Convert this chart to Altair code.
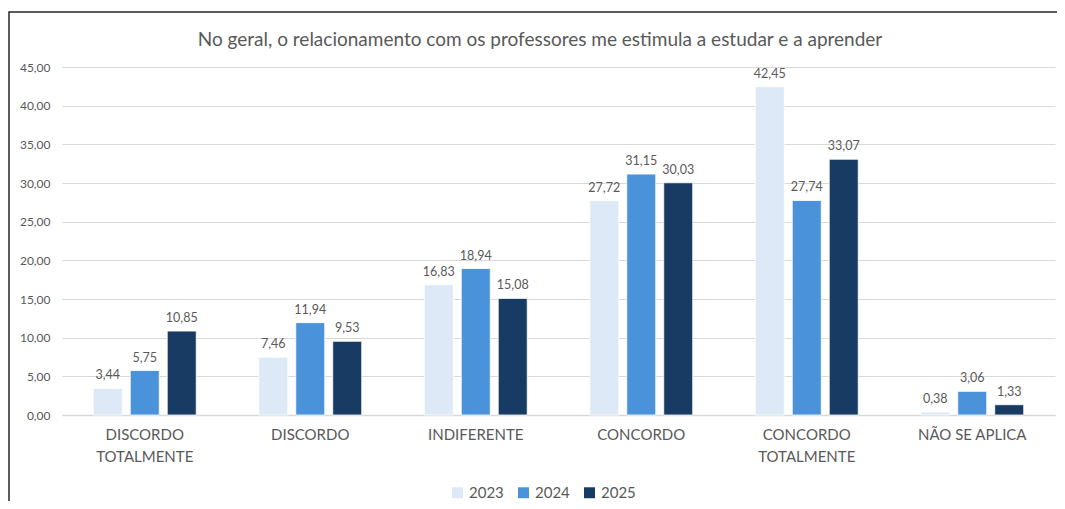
import altair as alt
import pandas as pd

categories = ["DISCORDO TOTALMENTE", "DISCORDO", "INDIFERENTE", "CONCORDO", "CONCORDO TOTALMENTE", "NÃO SE APLICA"]
years = ["2023", "2024", "2025"]
v2023 = [3.44, 7.46, 16.83, 27.72, 42.45, 0.38]
v2024 = [5.75, 11.94, 18.94, 31.15, 27.74, 3.06]
v2025 = [10.85, 9.53, 15.08, 30.03, 33.07, 1.33]
y_ticks = [0, 5, 10, 15, 20, 25, 30, 35, 40, 45]
colors = ["#DDE9F6", "#4A92DA", "#183B63"]
title_text = "No geral, o relacionamento com os professores me estimula a estudar e a aprender"

rows = []
for series, yr in zip([v2023, v2024, v2025], years):
    for c, v in zip(categories, series):
        rows.append({"cat": c, "ano": yr, "val": v})
df = pd.DataFrame(rows)

FONT = "Lato"
GRAY = "#595959"

x_enc = alt.X("cat:N", sort=categories, title=None,
              scale=alt.Scale(paddingInner=0.378, paddingOuter=0.189),
              axis=alt.Axis(labelAngle=0, labelFontSize=15, labelColor=GRAY, labelFont=FONT,
                            labelPadding=12, labelLineHeight=22, ticks=False,
                            domainColor="#D9D9D9", domainWidth=1.5,
                            labelExpr="datum.label == 'DISCORDO TOTALMENTE' ? ['DISCORDO','TOTALMENTE'] : datum.label == 'CONCORDO TOTALMENTE' ? ['CONCORDO','TOTALMENTE'] : datum.label"))
xo_enc = alt.XOffset("ano:N", sort=years, scale=alt.Scale(paddingInner=0.216, paddingOuter=0))
y_enc = alt.Y("val:Q", title=None,
              scale=alt.Scale(domain=[0, 45], nice=False),
              axis=alt.Axis(values=y_ticks, domain=False, ticks=False,
                            labelFontSize=12, labelColor=GRAY, labelFont=FONT, labelPadding=12,
                            labelOverlap=False, gridColor="#D9D9D9", gridWidth=1,
                            labelExpr="replace(format(datum.value, '.2f'), '.', ',')"))

base = alt.Chart(df)

bars = base.mark_bar(stroke="white", strokeWidth=0.8).encode(
    x=x_enc, xOffset=xo_enc, y=y_enc,
    color=alt.Color("ano:N", sort=years, scale=alt.Scale(domain=years, range=colors),
                    legend=alt.Legend(title=None, orient="none", direction="horizontal",
                                      legendX=388, legendY=418, symbolType="square", symbolSize=120,
                                      symbolStrokeWidth=0, labelFontSize=15, labelColor=GRAY,
                                      labelFont=FONT, columnPadding=12, labelOffset=4))
)

labels = base.transform_calculate(
    lab="replace(format(datum.val, '.2f'), '.', ',')"
).mark_text(baseline="middle", dy=-13, fontSize=12.5, color=GRAY, font=FONT).encode(
    x=x_enc, xOffset=xo_enc, y=y_enc,
    text="lab:N",
)

one = alt.Data(values=[{"t": title_text}])

frame = alt.Chart(one).mark_rect(fill=None, stroke="#262626", strokeWidth=1.5).encode(
    x=alt.value(-53), x2=alt.value(1010), y=alt.value(-55), y2=alt.value(500)
)

title = alt.Chart(one).mark_text(fontSize=19, font=FONT, color=GRAY, baseline="middle", align="center").encode(
    x=alt.value(478), y=alt.value(-27), text="t:N"
)

chart = alt.layer(bars, labels, frame, title).properties(
    width=993, height=348,
    autosize=alt.AutoSizeParams(type="none"),
    padding={"left": 54, "top": 59, "right": 2, "bottom": 86},
).configure(background="white").configure_view(stroke=None)

chart.save("out.html", embed_options={"renderer": "svg", "actions": False})
